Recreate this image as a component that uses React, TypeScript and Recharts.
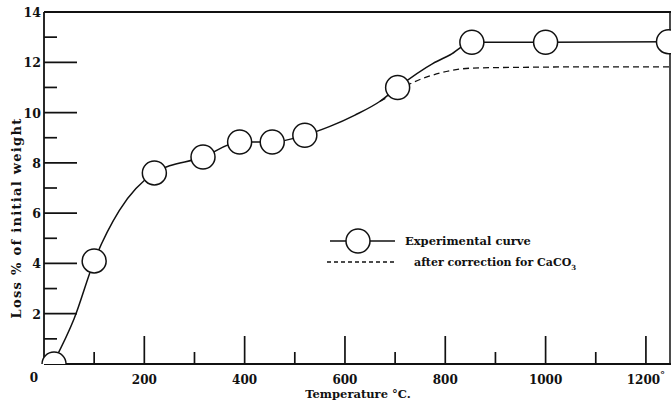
import { ComposedChart, Line, Scatter, XAxis, YAxis, ReferenceLine } from "recharts";

const curveTemps = [20, 60, 100, 150, 220, 317, 390, 455, 520, 570, 620, 670, 705, 775, 810, 853, 1000, 1250];
const curveLoss = [0.1, 1.8, 4.1, 6.1, 7.6, 8.23, 8.83, 8.83, 9.1, 9.45, 9.9, 10.45, 11.0, 11.95, 12.3, 12.8, 12.8, 12.82];

// measured points (circles)
const pointTemps = [20, 100, 220, 317, 390, 455, 520, 705, 853, 1000, 1245];
const pointLoss = [0, 4.1, 7.6, 8.23, 8.83, 8.83, 9.1, 11.0, 12.8, 12.8, 12.82];

// after correction for CaCO3 (dashed)
const corrTemps = [670, 705, 726, 789, 855, 955, 1100, 1250];
const corrLoss = [10.45, 10.85, 11.1, 11.57, 11.77, 11.8, 11.82, 11.82];

const xTicks = [0, 100, 200, 300, 400, 500, 600, 700, 800, 900, 1000, 1100, 1200];
const yTicks = [0, 1, 2, 3, 4, 5, 6, 7, 8, 9, 10, 11, 12, 13, 14];

const curveData = curveTemps.map((t, i) => ({ t, loss: curveLoss[i] }));
const pointData = pointTemps.map((t, i) => ({ t, loss: pointLoss[i] }));
const corrData = corrTemps.map((t, i) => ({ t, loss: corrLoss[i] }));

const ink = "#111";
const font = "DejaVu Serif";

const XTick = (props: any) => {
  const { x, y, payload } = props;
  const v = payload.value;
  const major = v % 200 === 0;
  return (
    <g>
      {v > 0 && (
        <line x1={x} x2={x} y1={y} y2={y - (major ? 28 : 12)} stroke={ink} strokeWidth={1.7} />
      )}
      {v === 0 && (
        <text x={x - 10} y={y + 18} textAnchor="middle" fontFamily={font} fontWeight="bold" fontSize={12} fill={ink}>
          0
        </text>
      )}
      {major && v > 0 && (
        <text x={x} y={y + 20} textAnchor="middle" fontFamily={font} fontWeight="bold" fontSize={12} fill={ink}>
          {v}
          {v === 1200 && (
            <tspan dy={-6} fontSize={10}>
              °
            </tspan>
          )}
        </text>
      )}
    </g>
  );
};

const YTick = (props: any) => {
  const { x, y, payload } = props;
  const v = payload.value;
  const major = v % 2 === 0;
  return (
    <g>
      {v > 0 && v < 14 && (
        <line x1={x} x2={x + (major ? 33 : 13)} y1={y} y2={y} stroke={ink} strokeWidth={1.7} />
      )}
      {major && v > 0 && (
        <text x={x - 3} y={y + 5} textAnchor="end" fontFamily={font} fontWeight="bold" fontSize={12.5} fill={ink}>
          {v}
        </text>
      )}
    </g>
  );
};

const Ring = (props: any) => {
  const { cx, cy, payload } = props;
  if (payload && payload.loss === 0) {
    return (
      <path
        d={`M ${cx - 12} ${cy} A 12 12 0 0 1 ${cx + 12} ${cy}`}
        fill="#fff"
        stroke={ink}
        strokeWidth={1.5}
      />
    );
  }
  return <circle cx={cx} cy={cy} r={12} fill="#fff" stroke={ink} strokeWidth={1.5} />;
};

export default function App() {
  return (
    <div style={{ position: "absolute", left: 0, top: 0, width: 671, height: 404, background: "#fff" }}>
      <ComposedChart width={671} height={404} margin={{ top: 12, right: 0, left: 0, bottom: 0 }}>
        <XAxis
          type="number"
          dataKey="t"
          domain={[0, 1250]}
          ticks={xTicks}
          interval={0}
          height={40}
          tickSize={0}
          tickMargin={0}
          tick={<XTick />}
          axisLine={{ stroke: ink, strokeWidth: 1.8 }}
          allowDuplicatedCategory={false}
        />
        <YAxis
          type="number"
          dataKey="loss"
          domain={[0, 14]}
          ticks={yTicks}
          interval={0}
          width={44}
          tickSize={0}
          tickMargin={0}
          tick={<YTick />}
          axisLine={{ stroke: ink, strokeWidth: 1.8 }}
        />
        <ReferenceLine y={14} stroke={ink} strokeWidth={1.8} />
        <ReferenceLine x={1248} stroke={ink} strokeWidth={1.5} />
        <Line
          data={corrData}
          dataKey="loss"
          type="monotone"
          stroke={ink}
          strokeWidth={1.3}
          strokeDasharray="6 4"
          dot={false}
          isAnimationActive={false}
        />
        <Line
          data={curveData}
          dataKey="loss"
          type="monotone"
          stroke={ink}
          strokeWidth={1.5}
          dot={false}
          isAnimationActive={false}
        />
        <Scatter data={pointData} dataKey="loss" shape={<Ring />} isAnimationActive={false} />
      </ComposedChart>

      <svg
        width={671}
        height={404}
        style={{ position: "absolute", left: 0, top: 0, pointerEvents: "none" }}
      >
        <g fontFamily={font} fontWeight="bold" fill={ink}>
          <line x1={330} x2={395} y1={241} y2={241} stroke={ink} strokeWidth={1.5} />
          <circle cx={358} cy={241} r={12} fill="#fff" stroke={ink} strokeWidth={1.5} />
          <text x={405} y={245} fontSize={11.5}>
            Experimental curve
          </text>
          <line x1={327} x2={397} y1={262} y2={262} stroke={ink} strokeWidth={1.3} strokeDasharray="4 3" />
          <text x={414} y={266} fontSize={11}>
            after correction for CaCO
            <tspan dy={4} fontSize={7}>
              3
            </tspan>
          </text>
          <text x={358} y={398} textAnchor="middle" fontSize={11.5}>
            Temperature °C.
          </text>
          <text
            x={0}
            y={0}
            transform="translate(21 218) rotate(-90)"
            textAnchor="middle"
            fontSize={13}
            letterSpacing={1.3}
          >
            Loss % of initial weight
          </text>
        </g>
      </svg>
    </div>
  );
}
